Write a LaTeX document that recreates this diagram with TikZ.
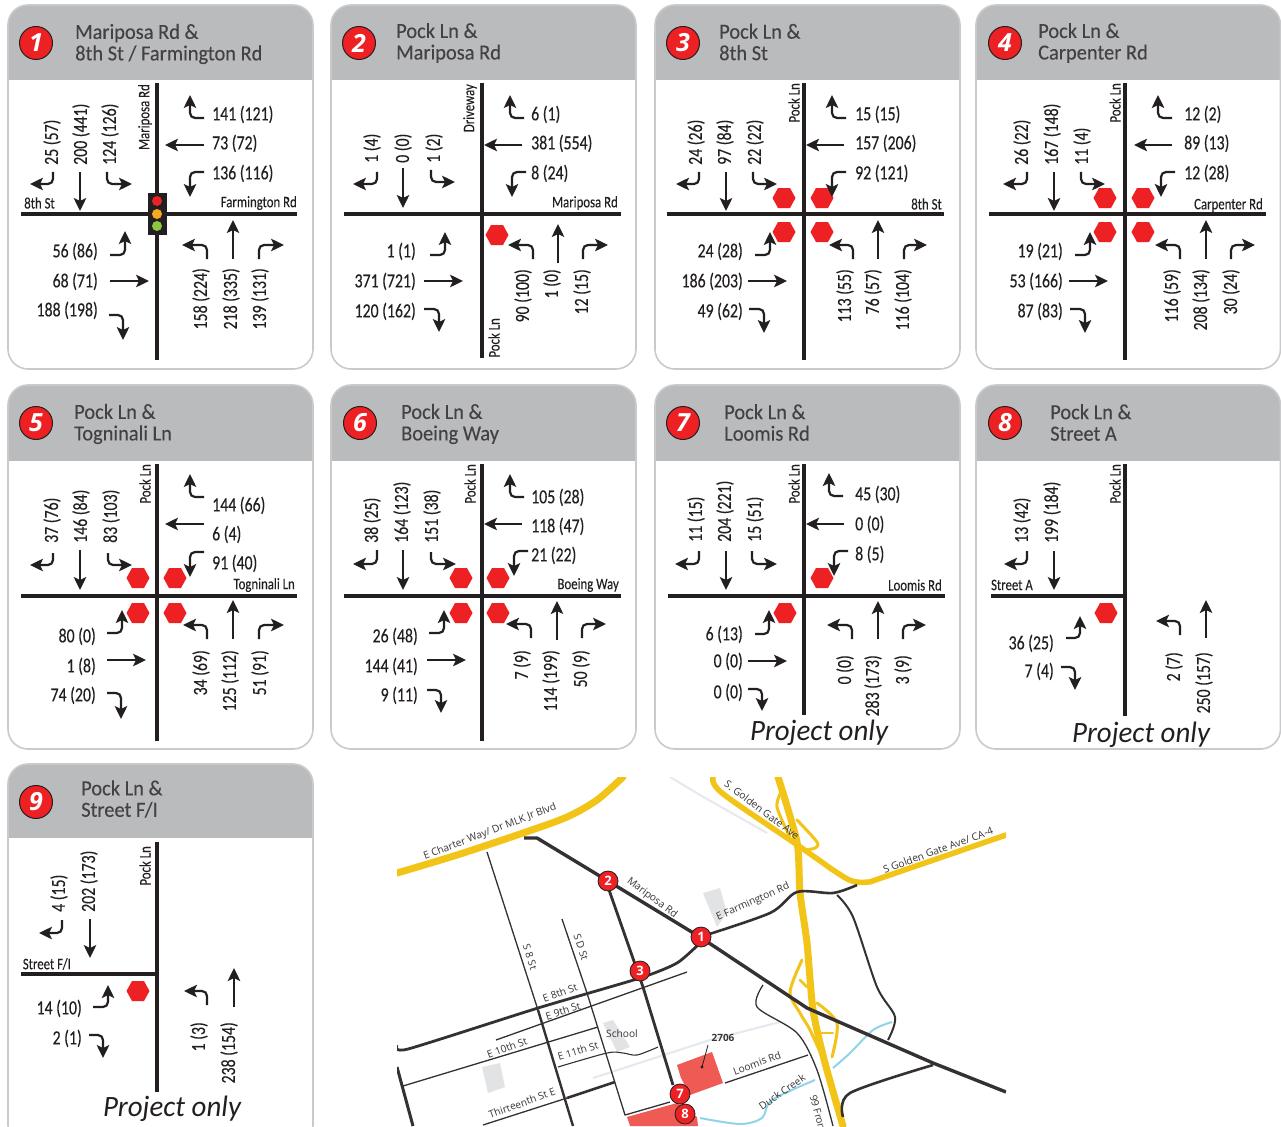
\documentclass[tikz,border=0pt]{standalone}
\usepackage{fontspec}
\usetikzlibrary{arrows.meta}
\newfontfamily\labf[FakeStretch=0.79,FakeBold=0.25]{Carlito}
\newfontfamily\strf[FakeStretch=0.8,FakeBold=0.15]{Carlito}
\newfontfamily\hdrf[FakeStretch=0.95,FakeBold=0.15]{Carlito}
\newfontfamily\ponf[FakeStretch=0.98]{Carlito}
\newfontfamily\numf{Open Sans}
\newfontfamily\mapf{Open Sans}
\definecolor{ink}{HTML}{231F20}
\definecolor{hdrgray}{HTML}{B9BBBD}
\definecolor{edgegray}{HTML}{C9CACC}
\definecolor{signred}{HTML}{ED2024}
\definecolor{hw}{HTML}{F2C417}
\definecolor{site}{HTML}{EF5A55}
\definecolor{creek}{HTML}{8FD4E8}
\definecolor{block}{HTML}{E2E3E5}
\definecolor{rail}{HTML}{E6E8F0}
\definecolor{lamporange}{HTML}{F7A823}
\definecolor{lampgreen}{HTML}{8DC63F}
\newcounter{nn}
\tikzset{
  x=1pt,y=-1pt,
  arr/.style={draw=ink,line width=2.2pt,-{Stealth[length=13pt,width=12.5pt,inset=3pt]},rounded corners=5pt},
  rd/.style={draw=ink,line width=4.6pt},
  tl/.style={inner sep=0pt,text=ink,font=\labf\fontsize{20}{20}\selectfont},
  sl/.style={inner sep=0pt,text=ink,font=\strf\fontsize{16}{16}\selectfont},
  hl/.style={inner sep=0pt,text=ink!85!white,align=left,anchor=west,font=\hdrf\fontsize{21.5}{21.5}\selectfont},
  mp/.style={inner sep=0pt,text=ink!90!white,font=\mapf\fontsize{10.2}{10.2}\selectfont},
  hwy/.style={draw=hw,line width=#1,line cap=round,line join=round},
  mr/.style={draw=ink!92!white,line width=#1,line join=round},
}
% labels
\newcommand{\Lw}[3]{\stepcounter{nn}\node[tl,anchor=west,yshift=-.4pt] (t\arabic{nn}) at (#1,#2) {#3};}
\newcommand{\Le}[3]{\stepcounter{nn}\node[tl,anchor=east,yshift=-.4pt] (t\arabic{nn}) at (#1,#2) {#3};}
\newcommand{\Vb}[3]{\stepcounter{nn}\node[tl,rotate=90,anchor=west] (t\arabic{nn}) at (#1,#2) {#3};}
\newcommand{\Vt}[3]{\stepcounter{nn}\node[tl,rotate=90,anchor=east] (t\arabic{nn}) at (#1,#2) {#3};}
\newcommand{\Sle}[3]{\stepcounter{nn}\node[sl,anchor=east] (t\arabic{nn}) at (#1,#2) {#3};}
\newcommand{\Slv}[3]{\stepcounter{nn}\node[sl,rotate=90,anchor=east] (t\arabic{nn}) at (#1,#2) {#3};}
% arrows
\newcommand{\Ab}[3]{\draw[arr] (#1) -- (#2) -- (#3);}
\newcommand{\At}[2]{\draw[arr] (#1) -- (#2);}
% stop sign
\newcommand{\stopsign}[2]{\fill[signred,shift={(#1,#2)}] (-11.5,0) -- (-6,-10) -- (6,-10) -- (11.5,0) -- (6,10) -- (-6,10) -- cycle;}
% panel: x1 y1 x2 y2 header-bottom
\newcommand{\panel}[5]{%
  \fill[white,rounded corners=20pt] (#1,#2) rectangle (#3,#4);
  \begin{scope}
  \clip[rounded corners=20pt] (#1,#2) rectangle (#3,#4);
  \fill[hdrgray] (#1,#2) rectangle (#3,#5);
  \end{scope}
  \draw[edgegray,line width=1.6pt,rounded corners=20pt] (#1,#2) rectangle (#3,#4);
}
% number badge in panel
\newcommand{\badge}[3]{\stepcounter{nn}\node[circle,draw=ink,line width=1pt,fill=signred,minimum size=33pt,inner sep=0pt,text=white,font=\numf\bfseries\itshape\fontsize{25}{25}\selectfont] (t\arabic{nn}) at (#1,#2) {#3};}
\newcommand{\head}[3]{\stepcounter{nn}\node[hl] (t\arabic{nn}) at (#1,#2) {#3};}
\newcommand{\ponly}[2]{\stepcounter{nn}\node[inner sep=0pt,text=ink,font=\ponf\itshape\fontsize{29.5}{29.5}\selectfont] (t\arabic{nn}) at (#1,#2) {Project only};}
\newcommand{\mk}[3]{\stepcounter{nn}\node[circle,draw=ink,line width=.8pt,fill=signred,minimum size=20pt,inner sep=0pt,text=white,font=\numf\bfseries\fontsize{13}{13}\selectfont] (t\arabic{nn}) at (#1,#2) {#3};}
\newcommand{\ml}[4]{\stepcounter{nn}\node[mp,rotate=#3] (t\arabic{nn}) at (#1,#2) {#4};}
\begin{document}
\begin{tikzpicture}
\useasboundingbox (0,0) rectangle (1281,1126);
\clip (0,0) rectangle (1281,1126);
\fill[white] (0,0) rectangle (1281,1126);

%---------- panel 1
\panel{8}{5}{313}{369}{80}
\badge{36}{43}{1}
\head{75}{44}{Mariposa Rd \&\\8th St / Farmington Rd}
\draw[rd] (21,214) -- (297,214); \draw[rd] (157,83) -- (157,360);
\fill[ink] (148,193) rectangle (167,235);
\fill[signred] (157,201) circle (5); \fill[lamporange] (157,214) circle (5); \fill[lampgreen] (157,226) circle (5);
\Slv{145}{84}{Mariposa Rd} \Sle{55}{203}{8th St} \Sle{297}{203}{Farmington Rd}
\Ab{204,118}{190,118}{190,95} \At{204,145}{165,145} \Ab{204,172}{190,172}{190,197}
\Lw{212}{114}{141 (121)} \Lw{212}{143}{73 (72)} \Lw{212}{173}{136 (116)}
\Ab{53,172}{53,184}{30,184} \At{80,172}{80,211} \Ab{107,172}{107,184}{132,184}
\Vb{52}{165}{25 (57)} \Vb{81}{165}{200 (441)} \Vb{110}{165}{124 (126)}
\Ab{110,255}{125,255}{125,231} \At{110,281}{149,281} \Ab{109,315}{123,315}{123,340}
\Le{98}{251}{56 (86)} \Le{98}{281}{68 (71)} \Le{98}{310}{188 (198)}
\Ab{207,259}{207,245}{182,245} \At{233,259}{233,220} \Ab{259,259}{259,245}{284,245}
\Vt{201}{268}{158 (224)} \Vt{231}{268}{218 (335)} \Vt{260}{268}{139 (131)}

%---------- panel 2
\panel{331}{5}{636}{369}{80}
\badge{359}{43}{2}
\head{396}{43}{Pock Ln \&\\Mariposa Rd}
\draw[rd] (344,214) -- (621,214); \draw[rd] (482,83) -- (482,358);
\Slv{470}{84}{Driveway} \Sle{618}{203}{Mariposa Rd} \Slv{494}{318}{Pock Ln}
\stopsign{497}{235}
\Ab{524,118}{510,118}{510,95} \At{522,145}{484,145} \Ab{526,172}{512,172}{512,197}
\Lw{531}{114}{6 (1)} \Lw{531}{143}{381 (554)} \Lw{531}{173}{8 (24)}
\Ab{377,172}{377,184}{353,184} \At{403,168}{403,208} \Ab{431,170}{431,182}{455,182}
\Vb{372}{163}{1 (4)} \Vb{403}{163}{0 (0)} \Vb{434}{163}{1 (2)}
\Ab{430,255}{445,255}{445,232} \At{424,281}{463,281} \Ab{424,309}{439,309}{439,332}
\Le{416}{251}{1 (1)} \Le{416}{281}{371 (721)} \Le{416}{311}{120 (162)}
\Ab{533,259}{533,245}{508,245} \At{558,263}{558,224} \Ab{583,259}{583,245}{608,245}
\Vt{523}{269}{90 (100)} \Vt{552}{269}{1 (0)} \Vt{582}{269}{12 (15)}

%---------- panel 3
\panel{655}{5}{960}{369}{80}
\badge{683}{43}{3}
\head{719}{42}{Pock Ln \&\\8th St}
\draw[rd] (667,214) -- (944,214); \draw[rd] (804,83) -- (804,360);
\Slv{794}{83}{Pock Ln} \Sle{942}{204}{8th St}
\stopsign{784}{198}\stopsign{822}{198}\stopsign{784}{232}\stopsign{822}{232}
\Ab{846,118}{832,118}{832,95} \At{844,145}{806,145} \Ab{846,172}{832,172}{832,197}
\Lw{855}{114}{15 (15)} \Lw{855}{143}{157 (206)} \Lw{855}{173}{92 (121)}
\Ab{699,172}{699,184}{676,184} \At{726,172}{726,211} \Ab{753,172}{753,184}{777,184}
\Vb{696}{165}{24 (26)} \Vb{725}{165}{97 (84)} \Vb{755}{165}{22 (22)}
\Ab{755,255}{770,255}{770,232} \At{748,281}{787,281} \Ab{749,309}{764,309}{764,333}
\Le{743}{251}{24 (28)} \Le{743}{281}{186 (203)} \Le{743}{311}{49 (62)}
\Ab{853,259}{853,245}{829,245} \At{878,259}{878,220} \Ab{904,259}{904,245}{927,245}
\Vt{845}{269}{113 (55)} \Vt{873}{269}{76 (57)} \Vt{903}{269}{116 (104)}

%---------- panel 4
\panel{976}{5}{1280.5}{369}{80}
\badge{1005}{43}{4}
\head{1038}{43}{Pock Ln \&\\Carpenter Rd}
\draw[rd] (989,214) -- (1266,214); \draw[rd] (1125,83) -- (1125,360);
\Slv{1115}{83}{Pock Ln} \Sle{1263}{205}{Carpenter Rd}
\stopsign{1105}{198}\stopsign{1143}{198}\stopsign{1105}{232}\stopsign{1143}{232}
\Ab{1172,118}{1158,118}{1158,95} \At{1172,145}{1134,145} \Ab{1175,172}{1161,172}{1161,197}
\Lw{1184}{114}{12 (2)} \Lw{1184}{143}{89 (13)} \Lw{1184}{173}{12 (28)}
\Ab{1027,172}{1027,184}{1003,184} \At{1054,172}{1054,211} \Ab{1081,172}{1081,184}{1105,184}
\Vb{1022}{165}{26 (22)} \Vb{1052}{165}{167 (148)} \Vb{1082}{165}{11 (4)}
\Ab{1075,255}{1090,255}{1090,232} \At{1069,281}{1108,281} \Ab{1070,309}{1085,309}{1085,333}
\Le{1063}{251}{19 (21)} \Le{1063}{281}{53 (166)} \Le{1063}{311}{87 (83)}
\Ab{1180,259}{1180,245}{1155,245} \At{1206,259}{1206,220} \Ab{1231,259}{1231,245}{1255,245}
\Vt{1172}{269}{116 (59)} \Vt{1201}{269}{208 (134)} \Vt{1231}{269}{30 (24)}

%---------- panel 5
\panel{8}{385}{313}{749}{461}
\badge{36}{423}{5}
\head{74}{424}{Pock Ln \&\\Togninali Ln}
\draw[rd] (21,596) -- (297,596); \draw[rd] (157,464) -- (157,741);
\Slv{145}{464}{Pock Ln} \Sle{295}{585}{Togninali Ln}
\stopsign{138}{578}\stopsign{175}{578}\stopsign{138}{613}\stopsign{175}{613}
\Ab{204,497}{190,497}{190,474} \At{204,524}{165,524} \Ab{204,552}{190,552}{190,577}
\Lw{212}{505}{144 (66)} \Lw{212}{534}{6 (4)} \Lw{212}{563}{91 (40)}
\Ab{53,553}{53,565}{30,565} \At{80,550}{80,590} \Ab{108,553}{108,565}{132,565}
\Vb{52}{543}{37 (76)} \Vb{81}{543}{146 (84)} \Vb{111}{543}{83 (103)}
\Ab{107,633}{122,633}{122,610} \At{107,660}{146,660} \Ab{107,693}{121,693}{121,719}
\Le{96}{636}{80 (0)} \Le{96}{666}{1 (8)} \Le{96}{695}{74 (20)}
\Ab{207,639}{207,625}{183,625} \At{233,639}{233,600} \Ab{259,639}{259,625}{284,625}
\Vt{201}{650}{34 (69)} \Vt{230}{650}{125 (112)} \Vt{260}{650}{51 (91)}

%---------- panel 6
\panel{331}{385}{636}{749}{461}
\badge{360}{423}{6}
\head{401}{424}{Pock Ln \&\\Boeing Way}
\draw[rd] (344,596) -- (621,596); \draw[rd] (482,464) -- (482,741);
\Slv{470}{464}{Pock Ln} \Sle{619}{585}{Boeing Way}
\stopsign{461}{578}\stopsign{498}{578}\stopsign{461}{613}\stopsign{498}{613}
\Ab{524,497}{510,497}{510,474} \At{522,524}{484,524} \Ab{528,551}{514,551}{514,576}
\Lw{531}{497}{105 (28)} \Lw{531}{526}{118 (47)} \Lw{531}{555}{21 (22)}
\Ab{377,550}{377,564}{353,564} \At{403,550}{403,590} \Ab{431,552}{431,564}{456,564}
\Vb{372}{543}{38 (25)} \Vb{402}{543}{164 (123)} \Vb{432}{543}{151 (38)}
\Ab{429,633}{444,633}{444,610} \At{427,660}{466,660} \Ab{427,690}{441,690}{441,713}
\Le{418}{636}{26 (48)} \Le{418}{666}{144 (41)} \Le{418}{695}{9 (11)}
\Ab{531,638}{531,624}{506,624} \At{557,640}{557,601} \Ab{582,638}{582,624}{606,624}
\Vt{522}{650}{7 (9)} \Vt{551}{650}{114 (199)} \Vt{581}{650}{50 (9)}

%---------- panel 7
\panel{655}{385}{960}{749}{461}
\badge{683}{423}{7}
\head{724}{422.5}{Pock Ln \&\\Loomis Rd}
\draw[rd] (668,596) -- (945,596); \draw[rd] (804,464) -- (804,715);
\Slv{794}{464}{Pock Ln} \Sle{942}{585}{Loomis Rd}
\stopsign{822}{578}\stopsign{785}{613}
\Ab{843,496}{829,496}{829,473} \At{844,524}{806,524} \Ab{848,551}{834,551}{834,576}
\Lw{855}{494}{45 (30)} \Lw{855}{524}{0 (0)} \Lw{855}{554}{8 (5)}
\Ab{699,551}{699,564}{675,564} \At{726,551}{726,590} \Ab{752,551}{752,564}{777,564}
\Vb{696}{542}{11 (15)} \Vb{725}{542}{204 (221)} \Vb{755}{542}{15 (51)}
\Ab{755,634}{769,634}{769,610} \At{748,661}{787,661} \Ab{748,689}{762,689}{762,711}
\Le{743}{634}{6 (13)} \Le{743}{661}{0 (0)} \Le{743}{692}{0 (0)}
\Ab{852,639}{852,625}{827,625} \At{878,639}{878,601} \Ab{903,639}{903,625}{926,625}
\Vt{845}{655}{0 (0)} \Vt{873}{655}{283 (173)} \Vt{903}{655}{3 (9)}
\ponly{819}{733}

%---------- panel 8
\panel{976}{385}{1280.5}{749}{461}
\badge{1005}{423}{8}
\head{1050}{422.5}{Pock Ln \&\\Street A}
\draw[rd] (991,596) -- (1125,596); \draw[rd] (1125,464) -- (1125,716);
\Slv{1115}{464}{Pock Ln} \Sle{1033}{585}{Street A}
\stopsign{1106}{613}
\Ab{1027,551}{1027,564}{1004,564} \At{1054,551}{1054,590}
\Vb{1022}{543}{13 (42)} \Vb{1052}{543}{199 (184)}
\Ab{1066,638}{1080,638}{1080,616} \Ab{1061,667}{1075,667}{1075,690}
\Le{1054}{643}{36 (25)} \Le{1054}{671}{7 (4)}
\Ab{1180,635}{1180,621}{1156,621} \At{1206,638}{1206,600}
\Vt{1174}{652}{2 (7)} \Vt{1204}{652}{250 (157)}
\ponly{1141}{735}

%---------- panel 9
\panel{8}{764}{313}{1145}{838}
\badge{36}{802}{9}
\head{81}{799}{Pock Ln \&\\Street F/I}
\draw[rd] (21,974) -- (157,974); \draw[rd] (157,842) -- (157,1092);
\Slv{145}{846}{Pock Ln} \Sle{71}{964}{Street F/I}
\stopsign{138}{991}
\Ab{62,920}{62,933}{39,933} \At{90,919}{90,958}
\Vb{59}{912}{4 (15)} \Vb{89}{912}{202 (173)}
\Ab{93,1007}{108,1007}{108,985} \Ab{89,1035}{103,1035}{103,1058}
\Le{82}{1008}{14 (10)} \Le{82}{1038}{2 (1)}
\Ab{207,1005}{207,991}{184,991} \At{234,1007}{234,968}
\Vt{199}{1022}{1 (3)} \Vt{229}{1022}{238 (154)}
\ponly{172}{1109}

%---------- map
\begin{scope}
\clip (397,777) rectangle (1006,1126);
% pale features
\draw[rail,line width=2pt] (670,777) -- (700,795) -- (767,833);
\draw[rail,line width=2pt] (593,1078) -- (710,1040) -- (780,1022);
\fill[block] (603,1023) -- (613,1020) -- (630,1047) -- (617,1052) -- cycle;
\fill[block] (482,1067) -- (500,1063) -- (505,1087) -- (488,1093) -- cycle;
\fill[block] (703,893) -- (720,888) -- (727,913) -- (717,927) -- cycle;
% site
\fill[site] (677,1065) -- (712,1052) -- (723,1083) -- (690,1095) -- (681,1078) -- cycle;
\fill[site] (627,1117) -- (677,1103) -- (697,1117) -- (698,1126) -- (630,1126) -- cycle;
% creek
\draw[creek,line width=2pt] plot[smooth] coordinates {(700,1118) (740,1124) (762,1118) (772,1100) (815,1080)};
\draw[creek,line width=2pt] plot[smooth] coordinates {(833,1068) (850,1053) (873,1030) (892,1022)};
% thin streets
\draw[mr=1.3pt] (487,852) -- (538,1010);
\draw[mr=1.3pt] (562,919) -- (587,993) -- (625,1115) -- (670,1102);
\draw[mr=1.3pt] (496,1040) -- (687,972);
\draw[mr=1.3pt] (403,1086) -- (598,1027);
\draw[mr=1.1pt] plot[smooth] coordinates {(558,1067) (607,1053) (623,1053) (637,1055) (658,1047)};
\draw[mr=1.3pt] (483,1125) -- (567,1098);
\draw[mr=1.3pt] (725,1083) -- (808,1055);
\draw[mr=1.3pt] plot[smooth] coordinates {(763,985) (757,1007) (797,1033) (817,1070) (833,1126)};
% medium / heavy streets
\draw[mr=2.4pt] (538,1010) -- (573,1126);
\draw[mr=2.6pt] (567,1098) -- (615,1082);
\draw[mr=3pt] (397,1067) -- (413,1126);
\draw[mr=2.8pt] (608,887) -- (643,987) -- (673,1085);
\draw[mr=2.8pt] plot[smooth,tension=.4] coordinates {(397,1045) (408,1049) (538,1008) (640,978) (677,963) (700,943)};
% highways
\draw[hwy=7pt] plot[smooth] coordinates {(397,873) (457,855) (523,833) (567,817) (597,800) (623,777)};
\draw[hwy=5.5pt] plot[smooth,tension=.55] coordinates {(713,777) (722,793) (793,842) (816,858) (836,872) (852,881) (868,882) (884,877) (1006,835)};
\draw[hwy=3pt] plot[smooth] coordinates {(782,790) (777,807) (790,837)};
\draw[hwy=3pt] plot[smooth] coordinates {(797,820) (817,842) (815,848) (805,850)};
\draw[hwy=3pt] plot[smooth] coordinates {(802,960) (790,992) (800,1013) (810,1030) (825,1063)};
\draw[hwy=3pt] plot[smooth] coordinates {(817,1003) (837,1023) (832,1057)};
\draw[hwy=2.5pt] (800,980) -- (807,987);
\draw[hwy=2.5pt] (820,1033) -- (833,1033);
\draw[hwy=7pt] plot[smooth,tension=.4] coordinates {(778,777) (797,842) (800,893) (807,943) (813,1010) (825,1063) (843,1126)};
% Mariposa / Farmington etc over the highway
\draw[mr=2.6pt] plot[smooth,tension=.5] coordinates {(700,937) (770,913) (797,892) (833,893) (857,885)};
\draw[mr=2pt] plot[smooth,tension=.5] coordinates {(837,895) (853,917) (877,987) (895,1017) (888,1040)};
\draw[mr=2.6pt] plot[smooth,tension=.5] coordinates {(933,1065) (850,1093) (843,1117)};
\draw[mr=3.4pt] (524,838) -- (537,838) -- (608,881) -- (700,937) -- (807,1008) -- (933,1063) -- (1006,1092);
% 2706 leader
\draw[ink,line width=.8pt] (702,1067) -- (708,1045);
\fill[ink] (702,1067) circle (1.6);
% labels
\ml{490}{832}{21}{E Charter Way/ Dr MLK Jr Blvd}
\ml{652}{898}{-37}{Mariposa Rd}
\ml{530}{957}{-72}{S 8 St}
\ml{581}{947}{-72}{S D St}
\ml{560}{993}{20}{E 8th St}
\ml{563}{1011}{18}{E 9th St}
\ml{507}{1048}{20}{E 10th St}
\ml{578}{1051}{17}{E 11th St}
\ml{622}{1034}{0}{School}
\ml{522}{1103}{20}{Thirteenth St E}
\ml{762}{810}{-37}{S. Golden Gate Ave}
\ml{938}{850}{20}{S Golden Gate Ave/ CA-4}
\ml{753}{902}{24}{E Farmington Rd}
\ml{757}{1063}{20}{Loomis Rd}
\ml{782}{1092}{35}{Duck Creek}
\stepcounter{nn}\node[mp,rotate=-75,anchor=west] (t\arabic{nn}) at (813,1095) {99 Fron};
\stepcounter{nn}\node[mp,font=\mapf\bfseries\fontsize{10}{10}\selectfont] (t\arabic{nn}) at (723,1038) {2706};
% markers
\mk{608}{881}{2} \mk{701}{937}{1} \mk{640}{971}{3} \mk{685}{1114}{8} \mk{680}{1094}{7}
\end{scope}
\end{tikzpicture}
\end{document}
